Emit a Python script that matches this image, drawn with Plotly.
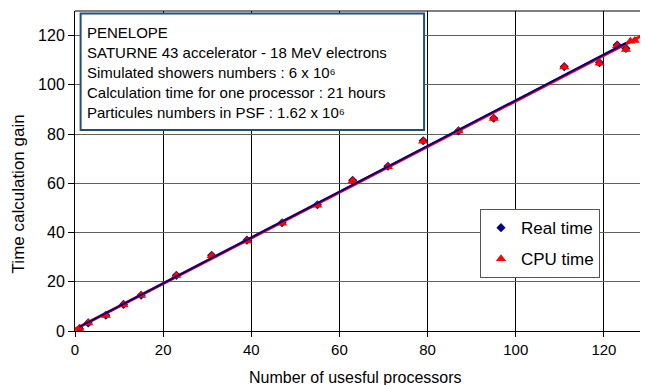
import numpy as np
import plotly.graph_objects as go

# ---- data ----
real_x = [1, 3, 7, 11, 15, 23, 31, 39, 47, 55, 63, 71, 79, 87, 95, 111, 119, 123, 125]
real_y = [1.0, 3.3, 6.4, 10.8, 14.5, 22.6, 30.8, 36.9, 44.0, 51.3, 61.2, 66.9, 77.3, 81.3, 86.4, 107.4, 109.0, 116.2, 114.8]
cpu_x = [1, 3, 7, 11, 15, 23, 31, 39, 47, 55, 63, 71, 79, 87, 95, 111, 119, 123, 125, 126, 127]
cpu_y = [1.0, 3.2, 6.3, 10.7, 14.4, 22.5, 30.6, 36.6, 43.8, 51.1, 61.0, 66.7, 77.1, 81.2, 86.3, 107.2, 108.8, 115.9, 114.4, 117.7, 118.0]

x_ticks = [0, 20, 40, 60, 80, 100, 120]
y_ticks = [0, 20, 40, 60, 80, 100, 120]

info_lines = [
    "PENELOPE",
    "SATURNE 43 accelerator - 18 MeV electrons",
    "Simulated showers numbers : 6 x 10⁶",
    "Calculation time for one processor : 21 hours",
    "Particules numbers in PSF : 1.62 x 10⁶",
]
info_y = [121.1, 113.0, 104.9, 96.7, 88.6]

x_title = "Number of usesful processors"
y_title = "Time calculation gain"

# trend lines (least squares from the data)
pr = np.polyfit(real_x, real_y, 1)
pc = np.polyfit(cpu_x, cpu_y, 1)
tr_x = np.array([min(real_x), max(real_x)])
tc_x = np.array([0, 140])

FONT = "Liberation Sans"

fig = go.Figure()
fig.add_trace(go.Scatter(x=real_x, y=real_y, mode="markers", name="Real time",
                         marker=dict(symbol="diamond", size=7, color="#000080"),
                         legendgroup="a"))
fig.add_trace(go.Scatter(x=cpu_x, y=cpu_y, mode="markers", name="CPU time",
                         marker=dict(symbol="triangle-up", size=9, color="#ff0000"),
                         legendgroup="b"))
fig.add_trace(go.Scatter(x=tc_x, y=np.polyval(pc, tc_x), mode="lines",
                         line=dict(color="#ff0000", width=3), showlegend=False,
                         hoverinfo="skip"))
fig.add_trace(go.Scatter(x=tr_x, y=np.polyval(pr, tr_x), mode="lines",
                         line=dict(color="#000080", width=2), showlegend=False,
                         hoverinfo="skip"))

shapes = [
    # info box
    dict(type="rect", xref="x", yref="y", x0=1.27, x1=79.2, y0=81.7, y1=129.0,
         line=dict(color="#1f4e79", width=2), fillcolor="white", layer="above"),
    # top plot border
    dict(type="line", xref="paper", yref="paper", x0=0, x1=1, y0=1, y1=1,
         line=dict(color="black", width=1)),
]

annotations = []
for t, yy in zip(info_lines, info_y):
    annotations.append(dict(x=2.3, y=yy, xref="x", yref="y", text=t, showarrow=False,
                            xanchor="left", yanchor="middle",
                            font=dict(family=FONT, size=15, color="black")))
annotations.append(dict(x=0.4887, y=-0.145, xref="paper", yref="paper", text=x_title,
                        showarrow=False, xanchor="center", yanchor="middle",
                        font=dict(family=FONT, size=16, color="black")))
annotations.append(dict(x=-0.0995, y=0.43, xref="paper", yref="paper", text=y_title,
                        showarrow=False, xanchor="center", yanchor="middle", textangle=-90,
                        font=dict(family=FONT, size=17, color="black")))

fig.update_layout(
    width=648, height=385,
    margin=dict(l=67, r=8, t=3, b=61.5),
    paper_bgcolor="white", plot_bgcolor="white",
    font=dict(family=FONT, size=15, color="black"),
    showlegend=True,
    legend=dict(x=0.7068, y=0.381, xanchor="left", yanchor="top",
                bgcolor="white", bordercolor="#555555", borderwidth=1,
                font=dict(family=FONT, size=17), tracegroupgap=6,
                itemsizing="trace", entrywidth=111, itemwidth=30),
    shapes=shapes,
    annotations=annotations,
    xaxis=dict(range=[0, 130], tickvals=x_ticks, showgrid=True, gridcolor="black",
               gridwidth=1, showline=True, linecolor="black", linewidth=1,
               ticks="outside", ticklen=5, tickcolor="black", zeroline=False,
               automargin=False, tickfont=dict(family=FONT, size=15)),
    yaxis=dict(range=[0, 130], tickvals=y_ticks, showgrid=True, gridcolor="#606060",
               gridwidth=1, showline=True, linecolor="black", linewidth=1,
               ticks="outside", ticklen=6, tickcolor="black", zeroline=False,
               automargin=False, tickfont=dict(family=FONT, size=16)),
)

fig.write_html("out.html")
